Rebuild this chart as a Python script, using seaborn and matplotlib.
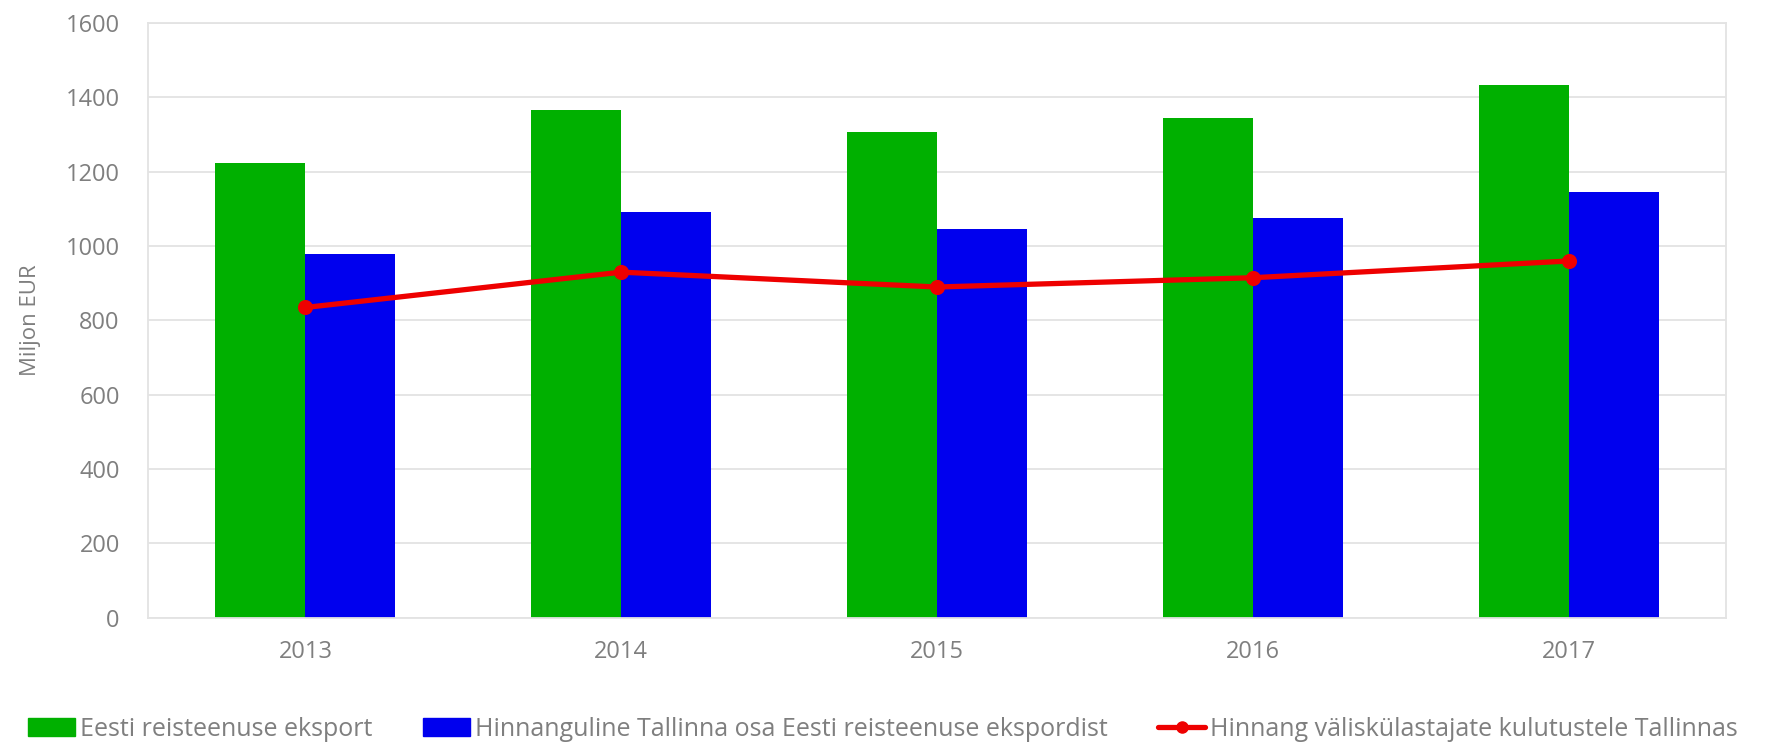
import pandas as pd
import seaborn as sns
import matplotlib.pyplot as plt
from matplotlib.patches import Patch
from matplotlib.lines import Line2D

#data
years = ['2013', '2014', '2015', '2016', '2017']
eksport = [1225, 1366, 1308, 1345, 1433]
tallinn_osa = [979, 1091, 1046, 1076, 1146]
kulutused = [835, 930, 890, 915, 960]

series_names = ['Eesti reisteenuse eksport',
                'Hinnanguline Tallinna osa Eesti reisteenuse ekspordist',
                'Hinnang väliskülastajate kulutustele Tallinnas']

#plot customization
sns.set_style('white')
plt.rcParams['font.family'] = ['Open Sans', 'DejaVu Sans']
text_grey = '#7f7f7f'
grid_grey = '#e3e3e3'
green = '#00b000'
blue = '#0000ee'
red = '#ee0000'

df = pd.DataFrame({
    'year': years * 2,
    'value': eksport + tallinn_osa,
    'series': [series_names[0]] * len(years) + [series_names[1]] * len(years)
})

fig = plt.figure(figsize=(17.78, 7.47), dpi=100)
ax = fig.add_axes([0.083, 0.173, 0.888, 0.796])

sns.barplot(data=df, x='year', y='value', hue='series', palette=[green, blue],
            width=0.57, gap=0, saturation=1, linewidth=0, legend=False, ax=ax, zorder=2)
sns.pointplot(x=years, y=kulutused, color=red, markers='o', markersize=8,
              linewidth=3.8, ax=ax, zorder=3)

ax.set_ylim(0, 1600)
ax.set_xlim(-0.5, 4.5)
ax.set_yticks(range(0, 1601, 200))
ax.yaxis.grid(True, color=grid_grey, linewidth=1.3, zorder=0)
ax.set_axisbelow(True)
for s in ax.spines.values():
    s.set_color(grid_grey)
    s.set_linewidth(1.3)
ax.tick_params(axis='both', colors=text_grey, labelsize=17, length=0)
ax.tick_params(axis='y', pad=20)
ax.tick_params(axis='x', pad=16)
ax.set_xlabel('')
ax.set_ylabel('Miljon EUR', color=text_grey, fontsize=16, labelpad=18)

handles = [Patch(color=green), Patch(color=blue),
           Line2D([], [], color=red, marker='o', markersize=8, linewidth=3.8)]
fig.legend(handles, series_names, loc='center left', bbox_to_anchor=(0.01, 0.024),
           ncol=3, frameon=False, fontsize=18, labelcolor=text_grey,
           handlelength=1.9, handleheight=0.75, handletextpad=0.2, columnspacing=2.0,
           borderaxespad=0)

plt.savefig('out.png', dpi=100)
